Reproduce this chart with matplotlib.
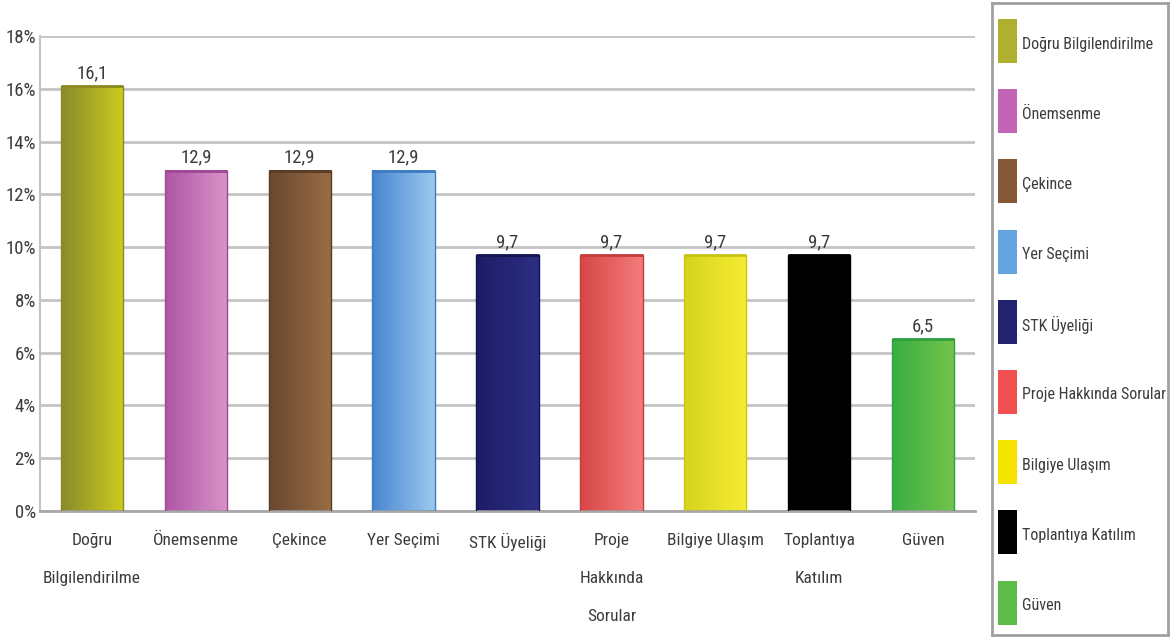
import numpy as np
import matplotlib
matplotlib.use("Agg")
import matplotlib.pyplot as plt
from matplotlib import font_manager
from matplotlib.patches import Rectangle
from matplotlib.colors import to_rgb

# --- data -------------------------------------------------------------
categories = [
    "Doğru Bilgilendirilme", "Önemsenme", "Çekince", "Yer Seçimi",
    "STK Üyeliği", "Proje Hakkında Sorular", "Bilgiye Ulaşım",
    "Toplantıya Katılım", "Güven",
]
tick_labels = [
    "Doğru\nBilgilendirilme", "Önemsenme", "Çekince", "Yer Seçimi",
    "STK Üyeliği", "Proje\nHakkında\nSorular", "Bilgiye Ulaşım",
    "Toplantıya\nKatılım", "Güven",
]
values = [16.1, 12.9, 12.9, 12.9, 9.7, 9.7, 9.7, 9.7, 6.5]
value_labels = ["16,1", "12,9", "12,9", "12,9", "9,7", "9,7", "9,7", "9,7", "6,5"]
y_ticks = [0, 2, 4, 6, 8, 10, 12, 14, 16, 18]

# gradient colours (left, right) and legend swatch colour
grad_left = ["#8a8a2c", "#b055a6", "#684830", "#4686d0", "#1c1c66",
             "#d84646", "#d6d41e", "#000000", "#38ae44"]
grad_right = ["#cccc1e", "#d894c8", "#9a6c44", "#9cc8ee", "#2e2e84",
              "#f47c7c", "#f6ec32", "#000000", "#74c44a"]
swatch = ["#b0b030", "#c464b4", "#85583a", "#64a4e0", "#22226e",
          "#f05050", "#f4e400", "#000000", "#5cbc46"]
edge = ["#8a8a20", "#a04898", "#5a3c24", "#3e7cc4", "#141450",
        "#c83c3c", "#c8c418", "#000000", "#30a040"]

# --- fonts ------------------------------------------------------------
available = {f.name for f in font_manager.fontManager.ttflist}
family = "DejaVu Sans"
for cand in ["Liberation Sans Narrow", "DejaVu Sans Condensed",
             "Roboto Condensed", "Open Sans Condensed", "Noto Sans"]:
    if cand in available:
        family = cand
        break
plt.rcParams["font.family"] = [family, "DejaVu Sans"]
text_color = "#3c3c3c"

W, H = 1172, 637
fig = plt.figure(figsize=(W / 100, H / 100), dpi=100)
fig.patch.set_facecolor("white")

ax = fig.add_axes([40 / W, (H - 511) / H, 935 / W, 475 / H])
x = np.arange(len(categories))
bars = ax.bar(x, values, width=0.6, facecolor="none", edgecolor="none", zorder=3)

for i, rect in enumerate(bars):
    x0, w, h = rect.get_x(), rect.get_width(), rect.get_height()
    c0, c1 = np.array(to_rgb(grad_left[i])), np.array(to_rgb(grad_right[i]))
    t = np.linspace(0, 1, 64)[None, :, None]
    img = c0 + (c1 - c0) * t
    ax.imshow(img, extent=(x0, x0 + w, 0, h), aspect="auto",
              interpolation="bilinear", zorder=2)
    ax.add_patch(Rectangle((x0, 0), w, h, facecolor="none",
                           edgecolor=edge[i], lw=1.0, zorder=3))
    ax.plot([x0, x0 + w], [h, h], color=edge[i], lw=2.0, zorder=4,
            solid_capstyle="butt")
    ax.text(rect.get_x() + w / 2, h + 0.15, value_labels[i],
            ha="center", va="bottom", fontsize=13.5, color=text_color)

ax.set_xlim(-0.5, len(categories) - 0.5)
ax.set_ylim(0, 18)
ax.set_yticks(y_ticks)
ax.set_yticklabels([f"{v}%" for v in y_ticks])
ax.set_xticks(x)
ax.set_xticklabels(tick_labels, linespacing=2.9)
ax.tick_params(axis="y", length=0, pad=3, labelsize=13.5, colors=text_color)
ax.tick_params(axis="x", length=0, pad=16, labelsize=12.5, colors=text_color)
ax.yaxis.grid(True, color="#c4c4c4", lw=2.0, zorder=1)
ax.set_axisbelow(True)
for s in ["top", "right"]:
    ax.spines[s].set_visible(False)
ax.spines["left"].set_color("#c4c4c4")
ax.spines["left"].set_linewidth(1.5)
ax.spines["bottom"].set_color("#a8a8a8")
ax.spines["bottom"].set_linewidth(2.0)

# --- legend panel -------------------------------------------------------
lax = fig.add_axes([992 / W, 2 / H, 176 / W, 632 / H])
lax.set_xlim(0, 176)
lax.set_ylim(632, 0)
lax.set_xticks([])
lax.set_yticks([])
for s in lax.spines.values():
    s.set_color("#a0a0a0")
    s.set_linewidth(2.0)
for i, name in enumerate(categories):
    top = 16 + 70.2 * i
    lax.add_patch(Rectangle((6, top), 19, 44, facecolor=swatch[i],
                            edgecolor="none"))
    lax.text(30, top + 25, name, ha="left", va="center", fontsize=11.5,
             color=text_color)

fig.savefig("out.png", dpi=100, facecolor="white")
